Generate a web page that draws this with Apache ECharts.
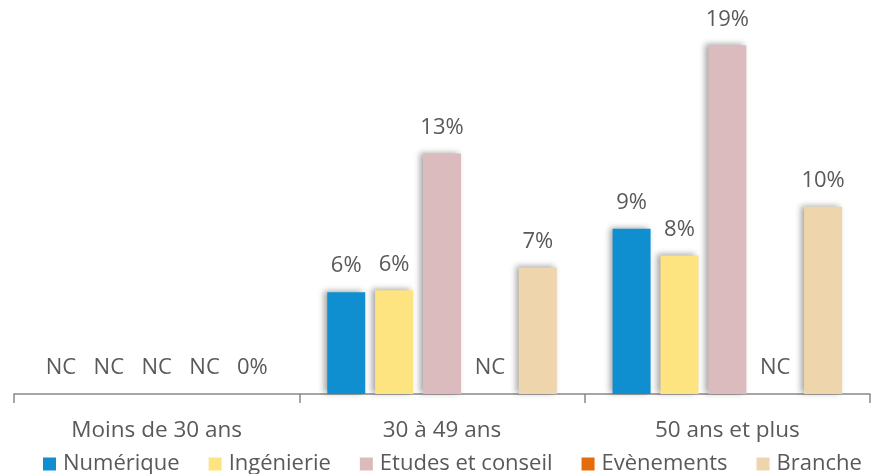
<!DOCTYPE html>
<html><head><meta charset="utf-8">
<script src="https://cdn.jsdelivr.net/npm/echarts@6/dist/echarts.min.js"></script>
<style>html,body{margin:0;padding:0;background:#fff}#c{width:875px;height:474px}</style>
</head><body><div id="c"></div>
<script>
const categories = ['Moins de 30 ans', '30 à 49 ans', '50 ans et plus'];
const seriesNames = ['Numérique', 'Ingénierie', 'Etudes et conseil', 'Evènements', 'Branche'];
const numerique = [null, 5.55, 9.0];
const ingenierie = [null, 5.65, 7.55];
const etudes = [null, 13.1, 19.0];
const evenements = [null, null, null];
const branche = [0, 6.9, 10.2];
const colors = ['#0F8FCF', '#FEE481', '#DBBBBD', '#E46C0A', '#EFD5AC'];

const allValues = [numerique, ingenierie, etudes, evenements, branche];
const font = 'Open Sans';
const chart = echarts.init(document.getElementById('c'));
chart.setOption({
  animation: false,
  grid: {left: 14, right: 5, top: 27, bottom: 80},
  legend: {
    top: 448, left: 38, icon: 'rect', itemWidth: 13, itemHeight: 13, itemGap: 29,
    textStyle: {color: '#595959', fontSize: 22, fontFamily: font, padding: [0,0,0,2]},
    data: seriesNames
  },
  xAxis: {
    type: 'category', data: categories,
    axisLine: {lineStyle: {color: '#898989', width: 1.5}},
    axisTick: {show: true, length: 9, lineStyle: {color: '#898989', width: 1.5}},
    axisLabel: {color: '#595959', fontSize: 22.5, fontFamily: font, margin: 25}
  },
  yAxis: {type: 'value', min: 0, max: 20, show: false, splitLine: {show: false}},
  series: allValues.map((vals, i) => ({
    name: seriesNames[i], type: 'bar', barWidth: 38, barGap: '26%',
    itemStyle: {color: colors[i], shadowColor: 'rgba(0,0,0,0.35)', shadowBlur: 6, shadowOffsetX: -3, shadowOffsetY: -1},
    label: {
      show: true, position: 'top', distance: 15, color: '#595959', fontSize: 22, fontFamily: font,
      formatter: p => p.data.nc ? 'NC' : Math.round(p.value) + '%'
    },
    data: vals.map(v => v === null ? {value: 0, nc: true} : {value: v})
  }))
});
</script></body></html>
